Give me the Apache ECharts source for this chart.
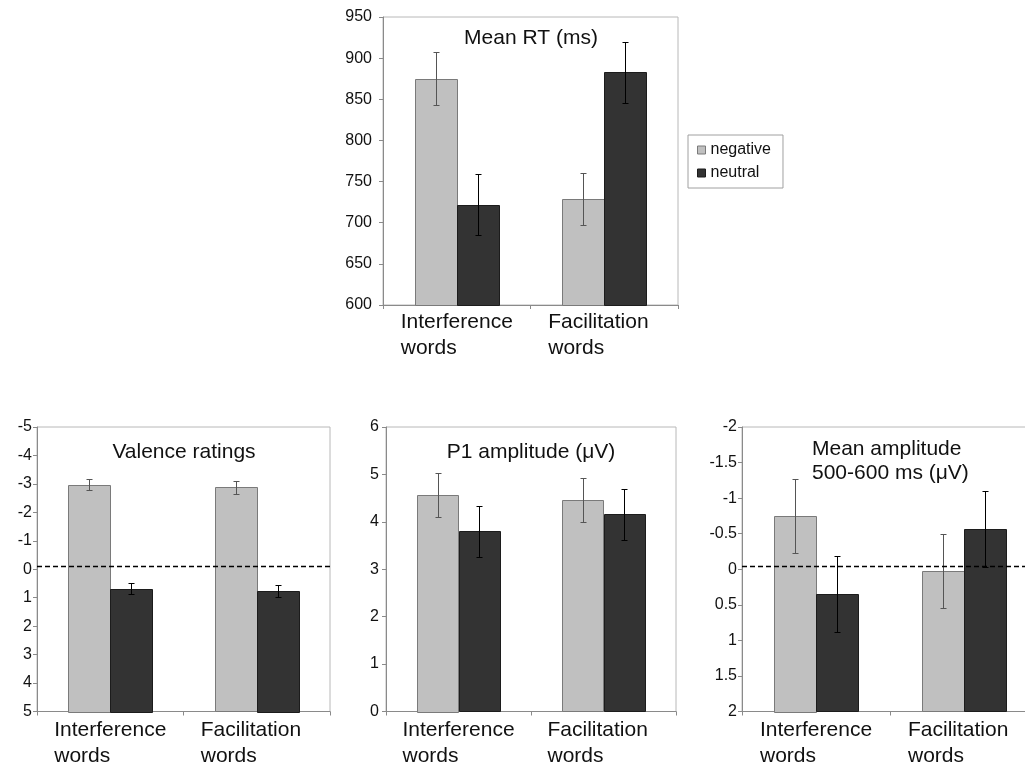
<!DOCTYPE html>
<html><head><meta charset="utf-8">
<script src="https://cdn.jsdelivr.net/npm/echarts@6/dist/echarts.min.js"></script>
<style>html,body{margin:0;padding:0;background:#fff;overflow:hidden;width:1025px;height:767px}#c{width:1040px;height:767px}</style>
</head><body><div id="c"></div>
<script>
const categories = ['Interference words', 'Facilitation words'];
const conditions = ['negative', 'neutral'];

// Mean RT (ms)
const rtNegative = [875, 729];
const rtNegativeErr = [32, 32];
const rtNeutral = [722, 883];
const rtNeutralErr = [37, 37];
const rtTicks = [600, 650, 700, 750, 800, 850, 900, 950];

// Valence ratings (inverted axis)
const valNegative = [-2.97, -2.88];
const valNegativeErr = [0.2, 0.22];
const valNeutral = [0.69, 0.75];
const valNeutralErr = [0.19, 0.21];
const valTicks = [-5, -4, -3, -2, -1, 0, 1, 2, 3, 4, 5];
const valRefLine = -0.1;

// P1 amplitude (µV)
const p1Negative = [4.57, 4.46];
const p1NegativeErr = [0.47, 0.47];
const p1Neutral = [3.80, 4.16];
const p1NeutralErr = [0.54, 0.54];
const p1Ticks = [0, 1, 2, 3, 4, 5, 6];

// Mean amplitude 500-600 ms (µV) (inverted axis)
const ampNegative = [-0.75, 0.03];
const ampNegativeErr = [0.52, 0.52];
const ampNeutral = [0.35, -0.565];
const ampNeutralErr = [0.53, 0.53];
const ampTicks = [-2, -1.5, -1, -0.5, 0, 0.5, 1, 1.5, 2];
const ampRefLine = -0.04;

const FONT = "'Liberation Sans', Arial, Helvetica, sans-serif";
const NEG_FILL = '#c0c0c0', NEG_STROKE = '#7a7a7a', NEG_ERR = '#555555';
const NEU_FILL = '#333333', NEU_STROKE = '#1c1c1c', NEU_ERR = '#000000';
const BAR_FRAC = 0.285;

const panels = [
  { grid: {left: 383, top: 17, width: 295, height: 288}, ticks: rtTicks, inverse: false,
    neg: rtNegative, negErr: rtNegativeErr, neu: rtNeutral, neuErr: rtNeutralErr,
    labelMargin: 11, catMargin: 4, ref: null },
  { grid: {left: 37, top: 427, width: 293, height: 288}, ticks: valTicks, inverse: true,
    neg: valNegative, negErr: valNegativeErr, neu: valNeutral, neuErr: valNeutralErr,
    labelMargin: 5, catMargin: 6, ref: valRefLine },
  { grid: {left: 386, top: 427, width: 290, height: 288}, ticks: p1Ticks, inverse: false,
    neg: p1Negative, negErr: p1NegativeErr, neu: p1Neutral, neuErr: p1NeutralErr,
    labelMargin: 7, catMargin: 6, ref: null },
  { grid: {left: 742, top: 427, width: 296, height: 288}, ticks: ampTicks, inverse: true,
    neg: ampNegative, negErr: ampNegativeErr, neu: ampNeutral, neuErr: ampNeutralErr,
    labelMargin: 5, catMargin: 6, ref: ampRefLine }
];

function barRenderer(base, side, fill, stroke, errColor) {
  return function (params, api) {
    const c = api.value(0), v = api.value(1), e = api.value(2);
    const band = api.size([1, 0])[0];
    const w = band * BAR_FRAC;
    const top = api.coord([c, v]);
    const bot = api.coord([c, base]);
    const cx = top[0] + side * w / 2;
    const y0 = Math.min(top[1], bot[1]);
    const h = Math.abs(bot[1] - top[1]);
    const ex = Math.round(cx) + 0.5;
    const eA = Math.round(api.coord([c, v - e])[1]) + 0.5;
    const eB = Math.round(api.coord([c, v + e])[1]) + 0.5;
    const cap = 3;
    return {
      type: 'group',
      children: [
        {type: 'rect', shape: {x: Math.round(cx - w / 2) + 0.5, y: Math.round(y0) + 0.5, width: Math.round(w), height: Math.round(h)},
         style: {fill: fill, stroke: stroke, lineWidth: 1}},
        {type: 'line', shape: {x1: ex, y1: eA, x2: ex, y2: eB}, style: {stroke: errColor, lineWidth: 1}},
        {type: 'line', shape: {x1: ex - cap, y1: eA, x2: ex + cap, y2: eA}, style: {stroke: errColor, lineWidth: 1}},
        {type: 'line', shape: {x1: ex - cap, y1: eB, x2: ex + cap, y2: eB}, style: {stroke: errColor, lineWidth: 1}}
      ]
    };
  };
}

function refRenderer(params, api) {
  const cs = params.coordSys;
  const y = Math.round(api.coord([0, api.value(1)])[1]) + 0.5;
  return {type: 'line', shape: {x1: cs.x, y1: y, x2: cs.x + cs.width, y2: y},
          style: {stroke: '#000', lineWidth: 1.5, lineDash: [5, 3]}};
}

const grids = [], xAxes = [], yAxes = [], series = [];
panels.forEach(function (p, i) {
  const min = p.ticks[0], max = p.ticks[p.ticks.length - 1];
  const interval = p.ticks[1] - p.ticks[0];
  const base = p.inverse ? max : min;
  grids.push(Object.assign({show: true, borderColor: '#b8b8b8', borderWidth: 1, containLabel: false}, p.grid));
  xAxes.push({
    type: 'category', gridIndex: i, data: categories,
    axisLine: {show: true, onZero: false, lineStyle: {color: '#8a8a8a', width: 1}},
    axisTick: {show: true, length: 4, lineStyle: {color: '#8a8a8a'}},
    axisLabel: {
      interval: 0, margin: p.catMargin,
      formatter: function (v) { return v.split(' ').map(function (s) { return '{a|' + s + '}'; }).join('\n'); },
      rich: {a: {width: 112, align: 'left', fontSize: 21, lineHeight: 26, fontFamily: FONT, color: '#111'}}
    },
    splitLine: {show: false}
  });
  yAxes.push({
    type: 'value', gridIndex: i, min: min, max: max, interval: interval, inverse: p.inverse,
    axisLine: {show: true, lineStyle: {color: '#8a8a8a', width: 1}},
    axisTick: {show: true, length: 4, lineStyle: {color: '#8a8a8a'}},
    axisLabel: {fontSize: 16, fontFamily: FONT, color: '#111', margin: p.labelMargin},
    splitLine: {show: false}
  });
  const negData = p.neg.map(function (v, k) { return [k, v, p.negErr[k]]; });
  const neuData = p.neu.map(function (v, k) { return [k, v, p.neuErr[k]]; });
  series.push({
    type: 'custom', name: conditions[0], xAxisIndex: i, yAxisIndex: i,
    itemStyle: {color: NEG_FILL}, encode: {x: 0, y: 1}, data: negData,
    renderItem: barRenderer(base, -1, NEG_FILL, NEG_STROKE, NEG_ERR), silent: true, z: 2
  });
  series.push({
    type: 'custom', name: conditions[1], xAxisIndex: i, yAxisIndex: i,
    itemStyle: {color: NEU_FILL}, encode: {x: 0, y: 1}, data: neuData,
    renderItem: barRenderer(base, 1, NEU_FILL, NEU_STROKE, NEU_ERR), silent: true, z: 2
  });
  if (p.ref !== null) {
    series.push({
      type: 'custom', name: 'ref' + i, xAxisIndex: i, yAxisIndex: i,
      encode: {x: 0, y: 1}, data: [[0, p.ref]], renderItem: refRenderer, silent: true, z: 5
    });
  }
});

function txt(text, x, y, align, vAlign, lh) {
  return {type: 'text', x: x, y: y, silent: true, z: 10,
    style: {text: text, fontSize: 21, fontFamily: FONT, fill: '#111', lineHeight: lh || 24,
            align: align, verticalAlign: vAlign, textAlign: align, textVerticalAlign: vAlign}};
}

const option = {
  animation: false,
  backgroundColor: '#fff',
  grid: grids, xAxis: xAxes, yAxis: yAxes, series: series,
  legend: {
    data: [
      {name: 'negative', icon: 'rect', itemStyle: {color: NEG_FILL, borderColor: NEG_STROKE, borderWidth: 1}},
      {name: 'neutral', icon: 'rect', itemStyle: {color: NEU_FILL, borderColor: NEU_STROKE, borderWidth: 1}}
    ],
    orient: 'vertical', left: 688, top: 135,
    itemWidth: 8, itemHeight: 8, itemGap: 7,
    padding: [7, 12, 7, 9],
    borderColor: '#a0a0a0', borderWidth: 1, backgroundColor: '#fff',
    textStyle: {fontSize: 16, fontFamily: FONT, color: '#111'},
    selectedMode: false
  },
  graphic: [
    txt('Mean RT (ms)', 531, 38, 'center', 'middle'),
    txt('Valence ratings', 184, 452, 'center', 'middle'),
    txt('P1 amplitude (\u03bcV)', 531, 452, 'center', 'middle'),
    txt('Mean amplitude\n500-600 ms (\u03bcV)', 812, 437, 'left', 'top', 24)
  ]
};

const chart = echarts.init(document.getElementById('c'));
chart.setOption(option);
</script>
</body></html>
